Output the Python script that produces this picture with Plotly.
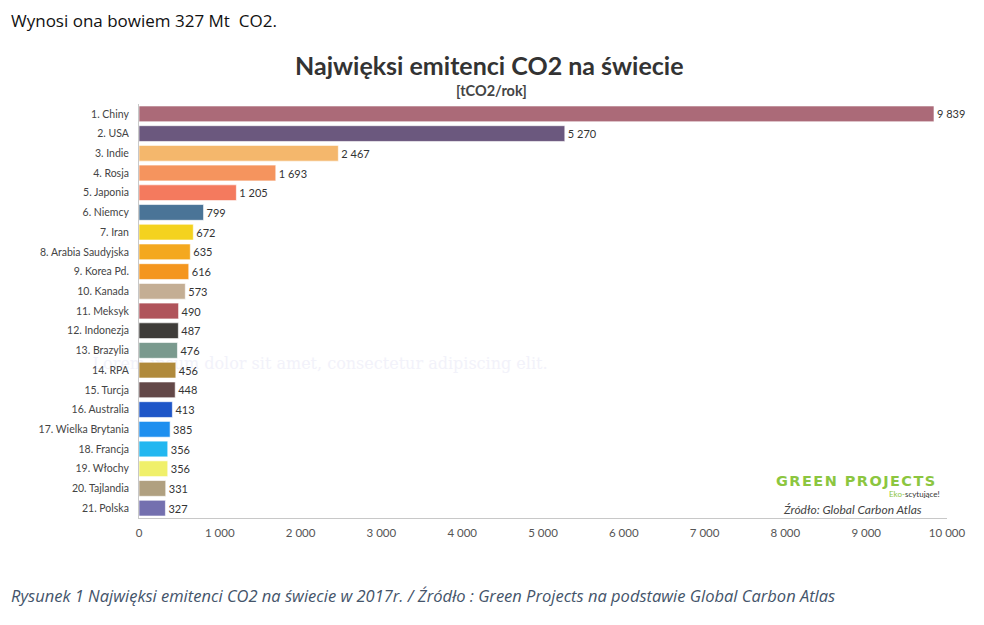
import plotly.graph_objects as go

# dane z wykresu (Mt CO2 / rok, 2017)
countries = [
    "1. Chiny", "2. USA", "3. Indie", "4. Rosja", "5. Japonia", "6. Niemcy",
    "7. Iran", "8. Arabia Saudyjska", "9. Korea Pd.", "10. Kanada",
    "11. Meksyk", "12. Indonezja", "13. Brazylia", "14. RPA", "15. Turcja",
    "16. Australia", "17. Wielka Brytania", "18. Francja", "19. Włochy",
    "20. Tajlandia", "21. Polska",
]
emissions = [9839, 5270, 2467, 1693, 1205, 799, 672, 635, 616, 573,
             490, 487, 476, 456, 448, 413, 385, 356, 356, 331, 327]
colors = [
    "#AB6A78", "#6B587E", "#F4B76C", "#F5945E", "#F47A5E", "#4A7497",
    "#F4D21F", "#F4A81F", "#F4961E", "#C4AE94", "#B0545B", "#3E3C39",
    "#7A9A8E", "#B08A3C", "#634848", "#1E56C8", "#1E8FEF", "#22B7F0",
    "#F0F06A", "#B0A080", "#7470AF",
]
x_ticks = [0, 1000, 2000, 3000, 4000, 5000, 6000, 7000, 8000, 9000, 10000]

labels = [f"{v:,}".replace(",", " ") for v in emissions]
tick_text = [f"{v:,}".replace(",", " ") for v in x_ticks]

FONT = "Lato, 'Open Sans', sans-serif"
BODY = "'Open Sans', 'Noto Sans', sans-serif"

# page body has an 8px margin, so the figure is 16px smaller than the window
W, H = 968, 609


def px(x, y):
    # reference pixel -> paper coords (plot area 139..947 x 104..518)
    return (x - 139) / 808, (518 - y) / 414


fig = go.Figure(
    go.Bar(
        x=emissions,
        y=countries,
        orientation="h",
        marker=dict(color=colors, line=dict(color="rgba(255,255,255,0.6)", width=1)),
        width=0.8,
        text=labels,
        textposition="outside",
        cliponaxis=False,
        textfont=dict(family=FONT, size=11, color="#333"),
        hovertemplate="%{y}: %{x}<extra></extra>",
    )
)

fig.update_layout(
    width=W,
    height=H,
    paper_bgcolor="white",
    plot_bgcolor="white",
    margin=dict(l=131, r=29, t=96, b=99),
    showlegend=False,
    xaxis=dict(
        range=[0, 10000],
        tickvals=x_ticks,
        ticktext=tick_text,
        showgrid=False,
        zeroline=False,
        showline=True,
        linecolor="#c8c8c8",
        linewidth=1,
        ticks="",
        ticklabelstandoff=4,
        tickfont=dict(family=FONT, size=11.5, color="#555"),
        fixedrange=True,
    ),
    yaxis=dict(
        autorange="reversed",
        showgrid=False,
        zeroline=False,
        showline=True,
        linecolor="#c8c8c8",
        linewidth=1,
        ticks="",
        ticklabelstandoff=7,
        tickfont=dict(family=FONT, size=10.5, color="#444"),
        fixedrange=True,
    ),
)

# faint watermark, drawn below the bars
wx0, wy0 = px(100, 352)
wx1, wy1 = px(540, 372)
fig.add_shape(
    type="rect", xref="paper", yref="paper", x0=wx0, x1=wx1, y0=wy0, y1=wy1,
    line=dict(width=0), fillcolor="rgba(0,0,0,0)", layer="below",
    label=dict(text="Lorem ipsum dolor sit amet, consectetur adipiscing elit.",
               textposition="middle center",
               font=dict(family="'DejaVu Serif', serif", size=16, color="#f2f2fa")),
)

logo = "\u200a".join("GREEN PROJECTS")

# text, x, y (reference px), xanchor, yanchor, family, size, colour
texts = [
    ("Wynosi ona bowiem 327 Mt  CO2.", 10, 8, "left", "top", BODY, 17, "#111"),
    ("<b>Najwięksi emitenci CO2 na świecie</b>", 489, 65, "center", "middle", FONT, 25, "#333"),
    ("<b>[tCO2/rok]</b>", 491, 90, "center", "middle", FONT, 14.5, "#444"),
    ("<b>" + logo + "</b>", 855, 481, "center", "middle", "'DejaVu Sans', sans-serif", 14.5, "#8CC63F"),
    ("<span style='color:#8CC63F'>Eko-</span>scytujące!", 941, 494, "right", "middle", FONT, 8, "#333"),
    ("<i>Źródło: Global Carbon Atlas</i>", 852, 509, "center", "middle", FONT, 12, "#444"),
    ("<i>Rysunek 1 Najwięksi emitenci CO2 na świecie w 2017r. / Źródło : Green Projects "
     "na podstawie Global Carbon Atlas</i>", 10, 595, "left", "middle", BODY, 16.5, "#44546A"),
]
for text, x, y, xanc, yanc, family, size, color in texts:
    ax, ay = px(x, y)
    fig.add_annotation(
        xref="paper", yref="paper", x=ax, y=ay, xanchor=xanc, yanchor=yanc,
        text=text, showarrow=False, borderpad=0,
        font=dict(family=family, size=size, color=color),
    )

fig.write_html("out.html")
